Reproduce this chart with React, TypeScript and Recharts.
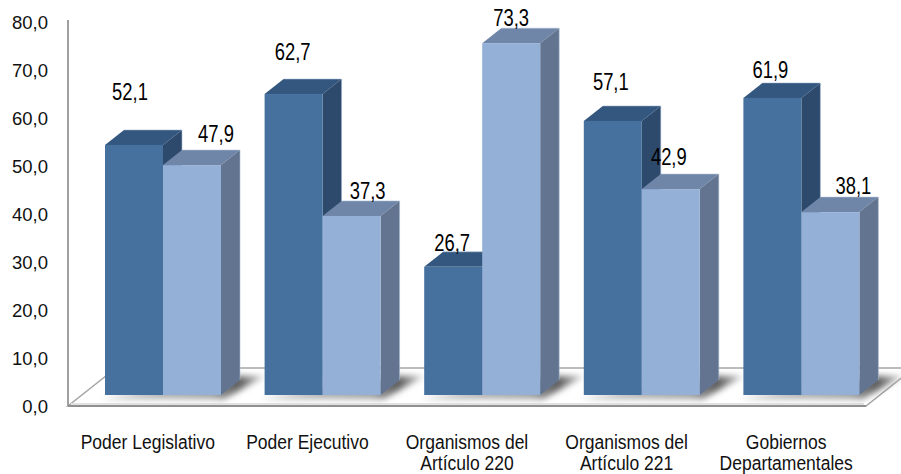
import { BarChart, Bar, XAxis, YAxis, LabelList, ReferenceArea } from 'recharts';

const CATEGORIES = ['Poder Legislativo', 'Poder Ejecutivo', 'Organismos del\nArtículo 220', 'Organismos del\nArtículo 221', 'Gobiernos\nDepartamentales'];
const SERIES_A = [52.1, 62.7, 26.7, 57.1, 61.9];
const SERIES_B = [47.9, 37.3, 73.3, 42.9, 38.1];
const Y_TICKS = [0, 10, 20, 30, 40, 50, 60, 70, 80];

const data = CATEGORIES.map((name, i) => ({ name, a: SERIES_A[i], b: SERIES_B[i] }));

// labels sit by hand in the original, so each one has its own nudge from the bar top
const LABEL_NUDGE_A = [[-4, -53], [-1, -42], [-1, -24], [-2, -39], [-2, -28]];
const LABEL_NUDGE_B = [[24, -31], [16, -25], [0, -25], [-2, -32], [23, -26]];

const SHIFT_X = 15; // bars stand in the middle of the floor, not on its front edge
const SHIFT_Y = 11;
const DEPTH_X = 19;
const DEPTH_Y = 15;
const FONT = '"Liberation Sans", Arial, sans-serif';

const fmt = (v: number) => v.toFixed(1).replace('.', ',');

function Bar3D({ x, y, width, height, front, top, side }: any) {
    const l = x + SHIFT_X;
    const r = l + width;
    const t = y - SHIFT_Y;
    const b = t + height;
    const backX = r + DEPTH_X;
    const backY = t - DEPTH_Y;
    return (
        <g>
            <polygon points={`${l},${t} ${l + DEPTH_X},${backY} ${backX},${backY} ${r},${t}`} fill={top} />
            <polygon points={`${r},${t} ${backX},${backY} ${backX},${b - DEPTH_Y} ${r},${b}`} fill={side} />
            <rect x={l} y={t} width={width} height={height} fill={front} />
            <polyline
                points={`${l + DEPTH_X},${backY} ${backX},${backY} ${backX},${b - DEPTH_Y}`}
                fill="none"
                stroke="#a9bdd6"
                strokeOpacity={0.55}
            />
        </g>
    );
}

function ShadowedBar(props: any) {
    const { x, y, width, height } = props;
    const l = x + SHIFT_X;
    const r = l + width * 2;
    const b = y - SHIFT_Y + height;
    return (
        <g>
            <polygon
                points={`${l - 4},${b + 4} ${r + 3},${b + 4} ${r + 44},${b - 19} ${r + 18},${b - 19}`}
                fill="url(#floorShadow)"
                filter="url(#softBlur)"
            />
            <Bar3D {...props} />
        </g>
    );
}

function Floor({ x, y, width, height }: any) {
    const bottom = y + height;
    const backY = bottom - 38;
    const dx = 48;
    return (
        <g>
            <defs>
                <filter id="softBlur" x="-20%" y="-50%" width="140%" height="200%">
                    <feGaussianBlur stdDeviation="3" />
                </filter>
                <linearGradient id="floorShadow" x1="0" y1="0" x2="1" y2="0">
                    <stop offset="0%" stopColor="#c2c2c2" />
                    <stop offset="68%" stopColor="#a0a0a0" />
                    <stop offset="84%" stopColor="#5a5a5a" />
                    <stop offset="100%" stopColor="#d2d2d2" />
                </linearGradient>
            </defs>
            <polygon
                points={`${x},${bottom} ${x + width},${bottom} ${x + width + dx},${backY} ${x + dx},${backY}`}
                fill="#ffffff"
                stroke="#a6a6a6"
                strokeWidth={1.5}
            />
            <line x1={x + 3} y1={bottom - 2} x2={x + width - 2} y2={bottom - 2} stroke="#e2e2e2" strokeWidth={2} />
            <line x1={x} y1={y - 2} x2={x} y2={bottom} stroke="#a0a0a0" strokeWidth={2} />
            <line x1={x} y1={bottom} x2={x + width} y2={bottom} stroke="#909090" strokeWidth={2} />
        </g>
    );
}

function CategoryTick({ x, y, payload }: any) {
    const lines = String(payload.value).split('\n');
    return (
        <g transform={`translate(${x},${y}) scale(0.875,1)`}>
            <text x={0} y={0} textAnchor="middle" fontFamily={FONT} fontSize={20} fill="#111111">
                {lines.map((line, i) => (
                    <tspan key={i} x={0} dy={i === 0 ? 35 : 21}>
                        {line}
                    </tspan>
                ))}
            </text>
        </g>
    );
}

function ValueLabel({ x, y, value, index, nudge }: any) {
    const [dx, dy] = nudge[index];
    const cx = x + SHIFT_X + 29 + dx;
    const cy = y - SHIFT_Y + dy + 8;
    return (
        <g transform={`translate(${cx},${cy}) scale(0.8,1)`}>
            <text x={0} y={0} textAnchor="middle" fontFamily={FONT} fontSize={23} fill="#000000">
                {fmt(value)}
            </text>
        </g>
    );
}

export default function App() {
    return (
        <div style={{ position: 'absolute', left: 0, top: 0, width: 901, height: 474, background: '#ffffff' }}>
            <BarChart
                width={901}
                height={474}
                data={data}
                barSize={58}
                barGap={0}
                margin={{ top: 22, right: 35, bottom: 0, left: 0 }}
            >
                <ReferenceArea y1={0} y2={80} shape={<Floor />} ifOverflow="visible" />
                <XAxis
                    dataKey="name"
                    height={68}
                    interval={0}
                    axisLine={false}
                    tickLine={false}
                    tick={<CategoryTick />}
                />
                <YAxis
                    width={68}
                    domain={[0, 80]}
                    ticks={Y_TICKS}
                    tickFormatter={fmt}
                    axisLine={false}
                    tickLine={false}
                    tickMargin={14}
                    tick={{ fill: '#111111', fontSize: 18.5, fontFamily: FONT }}
                />
                <Bar
                    dataKey="a"
                    isAnimationActive={false}
                    shape={<ShadowedBar front="#46719f" top="#34577f" side="#2d4a6d" />}
                >
                    <LabelList dataKey="a" content={<ValueLabel nudge={LABEL_NUDGE_A} />} />
                </Bar>
                <Bar
                    dataKey="b"
                    isAnimationActive={false}
                    shape={<Bar3D front="#94b0d6" top="#6f86a8" side="#62748f" />}
                >
                    <LabelList dataKey="b" content={<ValueLabel nudge={LABEL_NUDGE_B} />} />
                </Bar>
            </BarChart>
        </div>
    );
}
